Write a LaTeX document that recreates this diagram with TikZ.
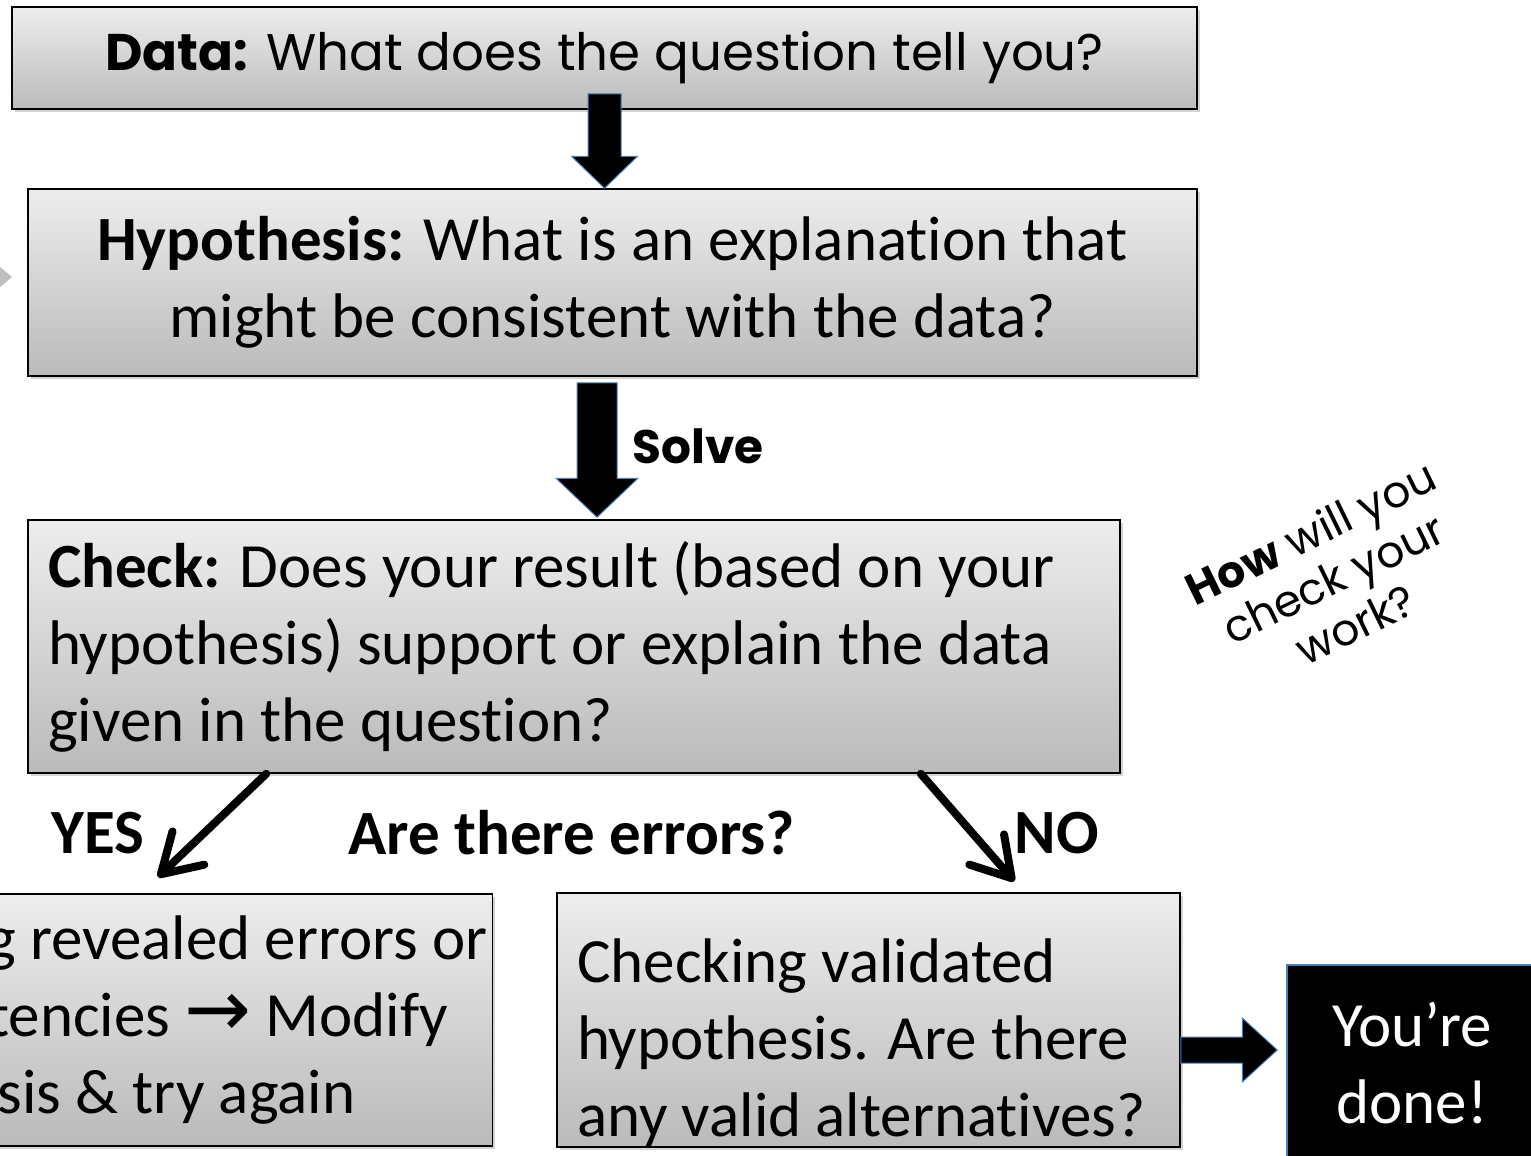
\documentclass[tikz,border=0pt]{standalone}
\usepackage{fontspec}
\setmainfont{Carlito}[Ligatures=NoCommon]
\newfontfamily\gothic{Poppins}
\newfontfamily\dejavu{DejaVu Sans}
\usetikzlibrary{arrows.meta,calc,shadows}
\definecolor{arrowblue}{HTML}{4A7EBB}

\newcommand{\blockarrow}[5]{%
  \coordinate (ba-h) at ($(#2)!#5!(#1)$);
  \filldraw[blockarrow] ($(#1)!#3!90:(#2)$) -- ($(ba-h)!#3!90:(#2)$) -- ($(ba-h)!#4!90:(#2)$)
    -- (#2) -- ($(ba-h)!#4!-90:(#2)$) -- ($(ba-h)!#3!-90:(#2)$) -- ($(#1)!#3!-90:(#2)$) -- cycle;}

\begin{document}
\begin{tikzpicture}[x=1pt,y=1pt,
    greybox/.style={draw=black, line width=1.5pt, top color=black!7, bottom color=black!27,
      drop shadow={opacity=0.35, shadow xshift=3pt, shadow yshift=-3pt}, inner sep=0pt},
    bigtext/.style={font=\fontsize{63}{77}\selectfont},
    gothictext/.style={font=\gothic\fontsize{51.5}{60}\selectfont},
    choicelabel/.style={font=\bfseries\fontsize{63}{77}\selectfont},
    blockarrow/.style={draw=arrowblue, line width=1pt, fill=black},
    choice/.style={line width=8pt, line cap=round, line join=round,
      -{Straight Barb[length=38pt, width=46pt, round]}}]
    \useasboundingbox (0,0) rectangle (1531,-1156);
    \clip (0,0) rectangle (1531,-1156);

    \fill[black!25] (-20,-250) -- (12,-277) -- (-20,-304) -- cycle;

    \node[greybox, minimum width=1185, minimum height=102, gothictext] (data) at (604.5,-58)
        {\textbf{Data:} What does the question tell you?};
    \node[greybox, minimum width=1169, minimum height=187, align=center, bigtext] (hyp) at (612.5,-282.5)
        {\textbf{Hypothesis:} What is an explanation that\\might be consistent with the data?};
    \node[greybox, minimum width=1092, minimum height=253, text width=1052, align=flush left, bigtext] (check) at (574,-646.5)
        {\textbf{Check:} Does your result (based on your\\hypothesis) support or explain the data\\given in the question?};
    \node[greybox, minimum height=252, inner xsep=5pt, align=left, bigtext, anchor=north east] (fix) at (493,-893)
        {Checking revealed errors or\\inconsistencies {\dejavu\fontsize{80}{77}\selectfont →} Modify\\hypothesis \& try again};
    \node[greybox, minimum width=623, minimum height=254, text width=583, align=flush left, bigtext] (valid) at (868.5,-1020)
        {\rule{0pt}{90pt}Checking validated\\hypothesis. Are there\\any valid alternatives?};
    \node[fill=black, draw=arrowblue, line width=1.5pt, minimum width=250, minimum height=196,
          text=white, align=center, bigtext] (done) at (1412,-1063) {You’re\\done!};

    \node[font=\gothic\bfseries\fontsize{47}{60}\selectfont] (solve) at (698,-446) {Solve};
    \node[choicelabel] (yes) at (98,-833) {YES};
    \node[choicelabel] (errq) at (572,-833) {Are there errors?};
    \node[choicelabel] (no) at (1057,-833) {NO};
    \node[rotate=26, align=center, font=\gothic\fontsize{44}{51}\selectfont] (howto) at (1333,-578)
        {\textbf{How} will you\\check your\\work?};

    \blockarrow{$(data.south)+(0,16)$}{$(hyp.north)+(-8,0)$}{16.5pt}{33pt}{32pt}
    \blockarrow{$(hyp.south)+(-15.5,-6)$}{$(check.north)+(23,2)$}{20pt}{41pt}{39pt}
    \blockarrow{$(valid.east)+(0,-30)$}{$(done.west)+(-9,13)$}{13pt}{32pt}{35pt}

    \draw[choice] ($(check.south west)+(239,0)$) -- ($(fix.north east)+(-335,16)$);
    \draw[choice] ($(check.south east)+(-200,0)$) -- ($(valid.north west)+(458,11)$);
\end{tikzpicture}
\end{document}
